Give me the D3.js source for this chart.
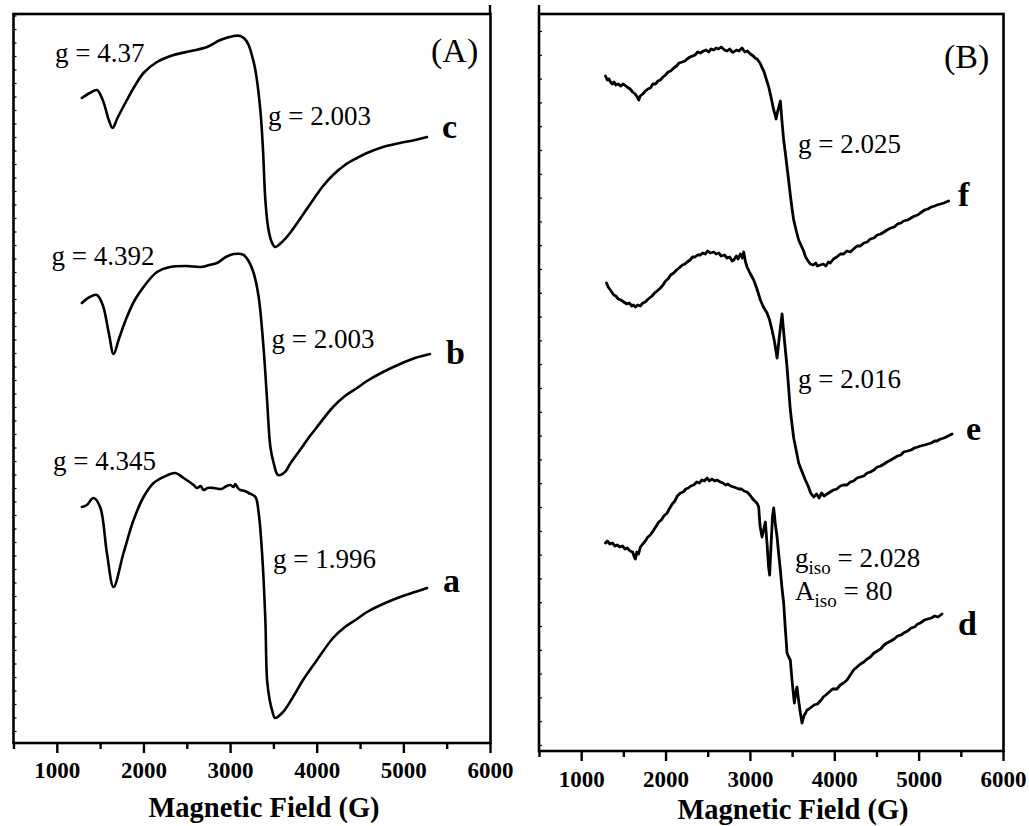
<!DOCTYPE html>
<html>
<head>
<meta charset="utf-8">
<script src="https://cdn.jsdelivr.net/npm/d3@7"></script>
<style>
  html, body { margin: 0; padding: 0; background: #fff; }
  svg { display: block; }
</style>
</head>
<body>
<svg id="chart" width="1029" height="826"></svg>
<script>
// ---------------- DATA ----------------
// Magnetic field axis
const fieldDomain = [500, 6000];
const majorTicks = [1000, 2000, 3000, 4000, 5000, 6000];
const minorTicks = [500, 1500, 2500, 3500, 4500, 5500];
const xTitle = "Magnetic Field (G)";

// Panel A  (intensity in arbitrary units)
const cField  = [1289,1380,1462,1530,1600,1643,1700,1809,1900,2001,2156,2348,2550,2734,2887,3041,3118,3170,3214,3260,3292,3349,3380,3407,3440,3480,3519,3600,3692,3807,3957,4073,4188,4326,4465,4580,4765,4962,5134,5273];
const cSignal = [645,650,653,643,623,615,625,643,657,670,681,688,692,696,703,707,707,704,698,685,673,633,593,543,515,501,496,501,510,524,543,557,568,578,585,590,596,600,603,606];

const bField  = [1289,1380,1462,1530,1600,1655,1720,1809,1900,2001,2156,2310,2500,2657,2760,2849,2950,3041,3157,3220,3272,3330,3388,3427,3465,3503,3553,3634,3692,3807,3922,4003,4188,4326,4465,4580,4765,4962,5134,5307];
const bSignal = [440,446,448,438,410,389,405,426,443,456,471,476,477,476,478,480,486,489,488,481,470,446,393,343,296,280,268,271,279,293,307,316,336,347,355,362,371,379,385,389];

const aField  = [1289,1347,1423,1500,1578,1655,1770,1886,2001,2117,2232,2367,2463,2579,2620,2660,2694,2740,2810,2900,2960,3003,3040,3060,3090,3118,3170,3214,3292,3330,3369,3407,3427,3457,3490,3519,3611,3726,3842,4003,4188,4326,4465,4580,4765,4962,5134,5273];
const aSignal = [236,238,245,236,190,156,190,223,246,260,266,270,265,258,255,257,253,255,255,254,257,258,256,259,255,253,252,250,246,230,190,123,63,43,31,25,31,46,63,83,105,116,124,131,139,146,151,155];

// Panel B
const fField  = [1288,1310,1330,1347,1370,1390,1410,1440,1466,1500,1545,1580,1610,1640,1665,1683,1700,1730,1760,1790,1820,1850,1880,1910,1939,1970,2000,2030,2060,2097,2130,2160,2200,2230,2256,2290,2320,2350,2380,2413,2450,2480,2510,2540,2571,2600,2630,2660,2700,2730,2760,2790,2808,2840,2870,2907,2940,2970,3006,3040,3060,3085,3120,3140,3164,3190,3223,3250,3282,3300,3310,3330,3350,3361,3380,3400,3420,3440,3460,3479,3500,3519,3550,3578,3610,3637,3660,3690,3716,3750,3780,3800,3835,3870,3900,3930,3953,3990,4030,4072,4110,4150,4190,4229,4270,4310,4350,4390,4427,4470,4510,4550,4590,4625,4670,4710,4750,4790,4822,4870,4910,4950,4990,5020,5070,5110,5150,5190,5217,5260,5300,5355];
const fSignal = [675,671,672,669,667,669,666,667,665,667,664,662,659,657,654,651,655,657,660,662,663,667,667,670,671,674,676,679,680,683,685,688,689,690,692,694,695,696,699,698,700,701,699,702,701,703,702,704,701,700,702,699,699,701,700,703,699,700,697,695,693,692,688,684,680,673,664,654,641,636,632,640,646,650,630,611,598,584,570,556,542,531,520,511,505,500,494,490,487,486,488,485,486,487,485,489,488,492,494,497,497,500,499,502,505,505,508,509,512,513,516,517,519,521,523,524,527,528,530,531,533,535,536,538,541,542,544,545,546,547,548,550];

const eField  = [1300,1320,1345,1370,1386,1410,1440,1470,1505,1540,1570,1600,1620,1643,1670,1700,1730,1760,1782,1810,1840,1870,1900,1939,1970,2000,2030,2060,2097,2130,2160,2200,2230,2256,2290,2320,2350,2380,2413,2440,2470,2500,2530,2571,2600,2630,2660,2700,2729,2760,2790,2808,2840,2860,2887,2910,2927,2945,2966,3000,3045,3080,3124,3160,3203,3230,3262,3290,3322,3350,3381,3410,3440,3460,3479,3500,3519,3550,3578,3610,3657,3690,3720,3756,3790,3820,3850,3880,3914,3950,3990,4030,4072,4110,4150,4190,4229,4270,4310,4350,4390,4427,4470,4510,4550,4590,4625,4670,4710,4750,4790,4822,4870,4910,4950,4990,5020,5070,5110,5150,5190,5217,5260,5300,5350,5396];
const eSignal = [468,464,461,458,456,455,452,451,449,447,448,445,446,444,446,445,448,449,451,453,455,458,460,463,466,470,472,476,478,481,483,486,487,489,491,494,494,496,496,498,497,500,498,499,497,498,495,496,493,494,490,491,495,492,497,493,499,490,484,478,471,463,451,444,438,432,421,410,393,415,437,410,384,362,341,326,313,300,288,281,271,265,258,254,257,253,258,255,257,259,261,262,265,266,266,269,270,273,274,275,278,279,281,284,285,287,289,291,293,295,296,299,300,301,303,304,305,306,307,308,310,310,312,313,315,317];

const dField  = [1288,1310,1340,1370,1400,1426,1460,1490,1520,1545,1580,1610,1630,1643,1660,1680,1702,1730,1760,1790,1820,1860,1890,1920,1950,1980,2019,2050,2080,2110,2140,2176,2210,2240,2270,2300,2334,2370,2400,2430,2460,2493,2520,2550,2580,2610,2650,2680,2710,2740,2770,2808,2840,2870,2900,2930,2966,3000,3025,3045,3070,3090,3104,3120,3144,3165,3183,3205,3220,3234,3250,3268,3282,3300,3322,3340,3361,3380,3400,3420,3440,3460,3479,3490,3499,3512,3527,3542,3558,3575,3598,3618,3640,3660,3677,3700,3730,3760,3800,3835,3870,3900,3940,3980,4032,4070,4110,4151,4190,4229,4270,4310,4350,4390,4427,4470,4510,4550,4590,4625,4670,4710,4750,4790,4822,4870,4910,4950,4990,5020,5070,5110,5150,5190,5230,5277];
const dSignal = [208,210,207,208,205,206,204,205,202,203,200,199,194,192,199,197,204,207,210,214,216,221,225,229,231,235,238,243,247,250,255,258,259,262,263,265,266,269,268,271,270,273,270,272,270,271,269,268,266,267,265,264,263,262,262,260,259,256,253,251,249,247,244,225,214,222,229,205,185,176,205,235,243,228,214,198,181,163,148,122,98,94,91,80,71,60,48,58,64,52,38,28,35,38,41,42,44,46,47,50,54,56,59,62,62,66,68,71,76,81,84,87,89,92,94,98,100,102,106,108,110,112,115,116,118,120,123,124,127,128,131,132,133,135,134,137];

// Annotations
const panelLabels = ["(A)", "(B)"];
const curveNames = ["a", "b", "c", "d", "e", "f"];
const gLabels = {
  c1: "g = 4.37", c2: "g = 2.003",
  b1: "g = 4.392", b2: "g = 2.003",
  a1: "g = 4.345", a2: "g = 1.996",
  f1: "g = 2.025", e1: "g = 2.016",
  d1: ["g", "iso", " = 2.028"], d2: ["A", "iso", " = 80"]
};

// ---------------- LAYOUT ----------------
const svg = d3.select("#chart");
const SERIF = "'Liberation Serif', 'Times New Roman', Times, serif";

const panels = [
  { left: 13.5, right: 490.5, top: 14, bottom: 743, yMax: 729, yStep: 13.5, yStart: 12,
    labelBase: 35, titleX: 264, titleY: 817, cornerField: 6000 },
  { left: 539, right: 1003.5, top: 14, bottom: 751, yMax: 737, yStep: 23.8, yStart: 6,
    labelBase: 36, titleX: 793, titleY: 819, cornerField: 500 }
];

panels.forEach(p => {
  p.x = d3.scaleLinear().domain(fieldDomain).range([p.left, p.right - 0.5]);
  p.y = d3.scaleLinear().domain([0, p.yMax]).range([p.bottom, p.top]);
});

function drawFrame(p) {
  const g = svg.append("g");
  // x axis
  const allTicks = minorTicks.concat(majorTicks).sort((a, b) => a - b);
  const ax = g.append("g")
    .attr("transform", `translate(0,${p.bottom})`)
    .call(d3.axisBottom(p.x).tickValues(allTicks).tickSizeOuter(0)
      .tickFormat(d => majorTicks.includes(d) ? d3.format("d")(d) : ""));
  ax.select(".domain").remove();
  ax.selectAll(".tick line")
    .attr("stroke", "#000").attr("stroke-width", 2.4)
    .attr("y2", d => majorTicks.includes(d) ? 10 : 6);
  ax.selectAll(".tick text")
    .attr("dy", null).attr("y", p.labelBase)
    .attr("font-family", SERIF).attr("font-weight", "bold")
    .attr("font-size", 23).attr("fill", "#000");

  // y axis minor ticks (inward, unlabeled)
  const yt = d3.range(p.yStart, p.yMax, p.yStep);
  const ay = g.append("g")
    .attr("transform", `translate(${p.left},0)`)
    .call(d3.axisLeft(p.y).tickValues(yt).tickSize(-3).tickFormat(""));
  ay.select(".domain").remove();
  ay.selectAll(".tick line").attr("stroke", "#000").attr("stroke-width", 1.2);

  // frame
  g.append("rect")
    .attr("x", p.left).attr("y", p.top)
    .attr("width", p.right - p.left).attr("height", p.bottom - p.top)
    .attr("fill", "none").attr("stroke", "#000").attr("stroke-width", 2.6);

  // small top tick at the corner
  g.append("line")
    .attr("x1", p.x(p.cornerField)).attr("x2", p.x(p.cornerField))
    .attr("y1", p.top).attr("y2", p.top - 9)
    .attr("stroke", "#000").attr("stroke-width", 2.4);

  // axis title
  g.append("text")
    .attr("x", p.titleX).attr("y", p.titleY)
    .attr("text-anchor", "middle")
    .attr("font-family", SERIF).attr("font-weight", "bold")
    .attr("font-size", 28.5).attr("fill", "#000")
    .text(xTitle);
}
panels.forEach(drawFrame);

// ---------------- CURVES ----------------
function drawCurve(p, fields, signals, smooth, width) {
  const pts = fields.map((f, i) => [f, signals[i]]);
  const line = d3.line()
    .x(d => p.x(d[0])).y(d => p.y(d[1]))
    .curve(smooth ? d3.curveCatmullRom.alpha(0.5) : d3.curveLinear);
  svg.append("path")
    .attr("d", line(pts))
    .attr("fill", "none").attr("stroke", "#000")
    .attr("stroke-width", width)
    .attr("stroke-linejoin", "round").attr("stroke-linecap", "round");
}
const PA = panels[0], PB = panels[1];
drawCurve(PA, cField, cSignal, true, 2.6);
drawCurve(PA, bField, bSignal, true, 2.6);
drawCurve(PA, aField, aSignal, true, 2.6);
drawCurve(PB, fField, fSignal, false, 2.8);
drawCurve(PB, eField, eSignal, false, 2.8);
drawCurve(PB, dField, dSignal, false, 2.8);

// ---------------- TEXT ----------------
function txt(x, y, s, size, bold) {
  return svg.append("text").attr("x", x).attr("y", y)
    .attr("font-family", SERIF).attr("font-size", size)
    .attr("font-weight", bold ? "bold" : "normal").attr("fill", "#000").text(s);
}
// panel labels
txt(431, 62, panelLabels[0], 34, false);
txt(944, 68, panelLabels[1], 34, false);

// panel A annotations
txt(55, 62, gLabels.c1, 27, false);
txt(268, 125, gLabels.c2, 27, false);
txt(442, 138, curveNames[2], 34, true);
txt(51.5, 265, gLabels.b1, 27, false);
txt(271.5, 348, gLabels.b2, 27, false);
txt(446, 364, curveNames[1], 34, true);
txt(53, 470, gLabels.a1, 27, false);
txt(273, 568, gLabels.a2, 27, false);
txt(443, 592, curveNames[0], 34, true);

// panel B annotations
txt(798, 153, gLabels.f1, 27, false);
txt(958, 206, curveNames[5], 34, true);
txt(798, 388, gLabels.e1, 27, false);
txt(966, 440, curveNames[4], 34, true);
txt(958, 635, curveNames[3], 34, true);

function subLabel(x, y, parts) {
  const t = svg.append("text").attr("x", x).attr("y", y)
    .attr("font-family", SERIF).attr("font-size", 27).attr("fill", "#000");
  t.append("tspan").text(parts[0]);
  t.append("tspan").attr("font-size", 19).attr("dy", 7).text(parts[1]);
  t.append("tspan").attr("dy", -7).text(parts[2]);
}
subLabel(795, 567, gLabels.d1);
subLabel(795, 600, gLabels.d2);
</script>
</body>
</html>
